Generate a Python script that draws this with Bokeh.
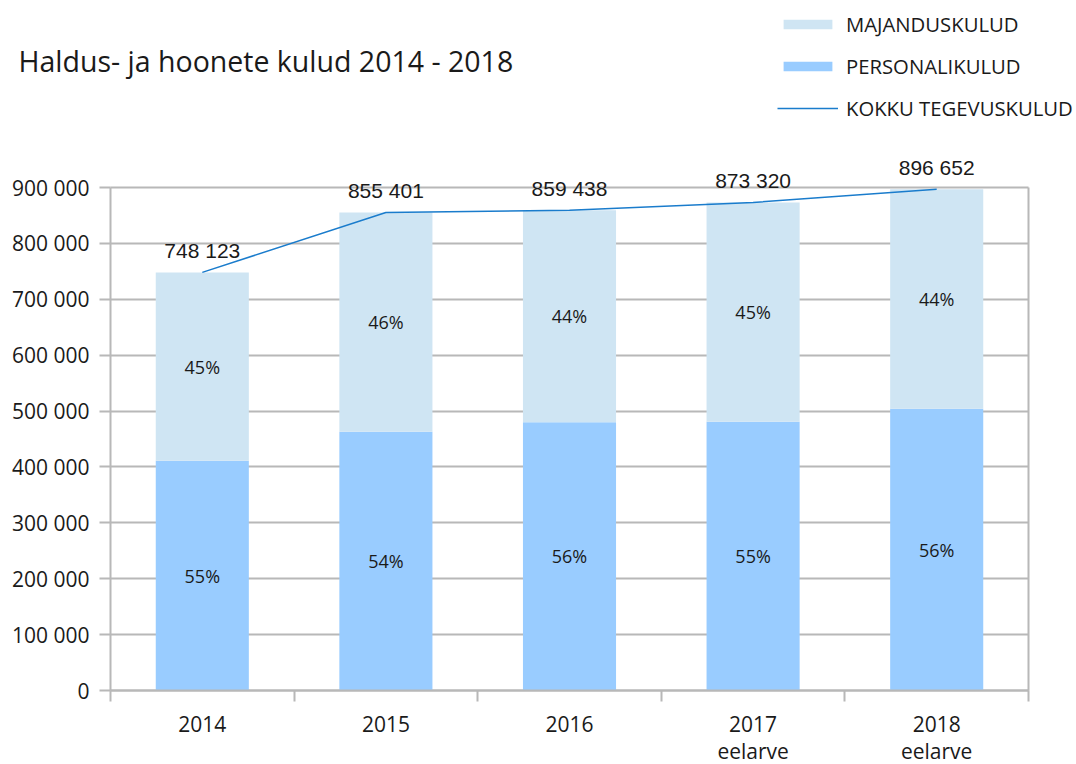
from bokeh.plotting import figure
from bokeh.models import (ColumnDataSource, FixedTicker, Legend, LegendItem,
                          Label, LabelSet, Range1d)
from bokeh.core.properties import value
from bokeh.embed import file_html
from bokeh.resources import INLINE

# ---- data ----
years = ["2014", "2015", "2016", "2017\neelarve", "2018\neelarve"]
personalikulud = [411000, 463000, 480000, 481000, 504000]
kokku = [748123, 855401, 859438, 873320, 896652]
majanduskulud = [k - p for k, p in zip(kokku, personalikulud)]
kokku_labels = ["748 123", "855 401", "859 438", "873 320", "896 652"]
y_ticks = [0, 100000, 200000, 300000, 400000, 500000, 600000, 700000, 800000, 900000]
y_tick_labels = ["0", "100 000", "200 000", "300 000", "400 000", "500 000",
                 "600 000", "700 000", "800 000", "900 000"]
series_names = ["MAJANDUSKULUD", "PERSONALIKULUD", "KOKKU TEGEVUSKULUD"]
title_text = "Haldus- ja hoonete kulud 2014 - 2018"

# ---- derived ----
n = len(years)
xs = [i + 0.5 for i in range(n)]
y_max = y_ticks[-1]
pers_pct = [f"{round(p / k * 100)}%" for p, k in zip(personalikulud, kokku)]
maj_pct = [f"{round(m / k * 100)}%" for m, k in zip(majanduskulud, kokku)]

src = ColumnDataSource(dict(
    x=xs, pers=personalikulud, kokku=kokku, maj=majanduskulud,
    pers_mid=[p / 2 for p in personalikulud],
    maj_mid=[p + m / 2 for p, m in zip(personalikulud, majanduskulud)],
    pers_pct=pers_pct, maj_pct=maj_pct, klab=kokku_labels,
))

GRID = "#b8b8b8"
TXT = "#1a1a1a"
C_PERS = "#99ccff"
C_MAJ = "#cfe5f3"
C_LINE = "#1a7ccc"
BAR_W = 0.507

# layout geometry (pixels)
W, H = 1076, 764
AX_X = 110          # pixel column of the y axis
AX_Y = 690          # pixel row of the x axis
PX_PER_CAT = 183.6
PX_PER_Y = 503 / y_max

x_range = Range1d(-AX_X / PX_PER_CAT, (W - AX_X) / PX_PER_CAT)
y_range = Range1d(-(H - AX_Y) / PX_PER_Y, AX_Y / PX_PER_Y)

p = figure(width=W, height=H, x_range=x_range, y_range=y_range,
           output_backend="svg", toolbar_location=None, min_border=0)
p.background_fill_color = "white"
p.border_fill_color = "white"
p.outline_line_color = None

# horizontal grid (top one is the plot area's top edge)
p.ygrid.ticker = FixedTicker(ticks=y_ticks)
p.ygrid.grid_line_color = GRID
p.ygrid.grid_line_width = 2
p.ygrid.bounds = (0, y_max)
p.ygrid.cross_bounds = (0, n)
# right edge of the plot area
p.xgrid.ticker = FixedTicker(ticks=[n])
p.xgrid.grid_line_color = GRID
p.xgrid.grid_line_width = 2
p.xgrid.cross_bounds = (0, y_max)

# bars + line
r_pers = p.vbar(x="x", bottom=0, top="pers", width=BAR_W, source=src,
                fill_color=C_PERS, line_color=None)
r_maj = p.vbar(x="x", bottom="pers", top="kokku", width=BAR_W, source=src,
               fill_color=C_MAJ, line_color=None)
r_line = p.line(x="x", y="kokku", source=src, line_color=C_LINE, line_width=1.5)

# labels
for ycol, tcol in (("pers_mid", "pers_pct"), ("maj_mid", "maj_pct")):
    p.add_layout(LabelSet(x="x", y=ycol, text=tcol, source=src,
                          text_align="center", text_baseline="middle",
                          text_font=value("Open Sans"), text_font_size=value("18px"),
                          text_color=TXT))
p.add_layout(LabelSet(x="x", y="kokku", text="klab", source=src,
                      y_offset=14, text_align="center",
                      text_baseline="alphabetic",
                      text_font=value("Liberation Sans"), text_font_size=value("21px"),
                      text_color=TXT))

# y axis (fixed at x = 0)
ya = p.yaxis[0]
ya.fixed_location = 0
ya.ticker = FixedTicker(ticks=y_ticks)
ya.bounds = (0, y_max)
ya.major_label_overrides = {t: l for t, l in zip(y_ticks, y_tick_labels)}
ya.major_tick_out = 11
ya.major_tick_in = 0
ya.minor_tick_line_color = None
ya.major_tick_line_color = GRID
ya.major_tick_line_width = 2
ya.axis_line_color = GRID
ya.axis_line_width = 2
ya.major_label_text_font = "Open Sans"
ya.major_label_text_font_size = "21px"
ya.major_label_text_color = TXT
ya.major_label_standoff = 10

# x axis (fixed at y = 0)
xa = p.xaxis[0]
xa.fixed_location = 0
xa.ticker = FixedTicker(ticks=xs, minor_ticks=list(range(n + 1)))
xa.bounds = (0, n)
xa.major_label_overrides = {x: y for x, y in zip(xs, years)}
xa.major_tick_line_color = None
xa.major_tick_out = 0
xa.major_tick_in = 0
xa.minor_tick_out = 11
xa.minor_tick_in = 0
xa.minor_tick_line_color = GRID
xa.minor_tick_line_width = 2
xa.axis_line_color = GRID
xa.axis_line_width = 2
xa.major_label_text_font = "Open Sans"
xa.major_label_text_font_size = "21px"
xa.major_label_text_color = TXT
xa.major_label_text_line_height = 0.97
xa.major_label_standoff = 8

# title
p.add_layout(Label(x=18, y=H - 60, x_units="screen", y_units="screen",
                   text=title_text, text_font="Open Sans",
                   text_font_size="28.5px", text_color=TXT,
                   text_baseline="alphabetic"))

# legend
legend = Legend(items=[
    LegendItem(label=series_names[0], renderers=[r_maj]),
    LegendItem(label=series_names[1], renderers=[r_pers]),
    LegendItem(label=series_names[2], renderers=[r_line]),
], location=(777, H - 122), glyph_width=61, glyph_height=12,
    label_text_font="Open Sans", label_text_font_size="20.3px",
    label_text_color=TXT, label_standoff=8, spacing=14,
    padding=0, margin=0, border_line_color=None,
    background_fill_alpha=0)
p.add_layout(legend, "center")

open("out.html", "w").write(file_html(p, INLINE))
